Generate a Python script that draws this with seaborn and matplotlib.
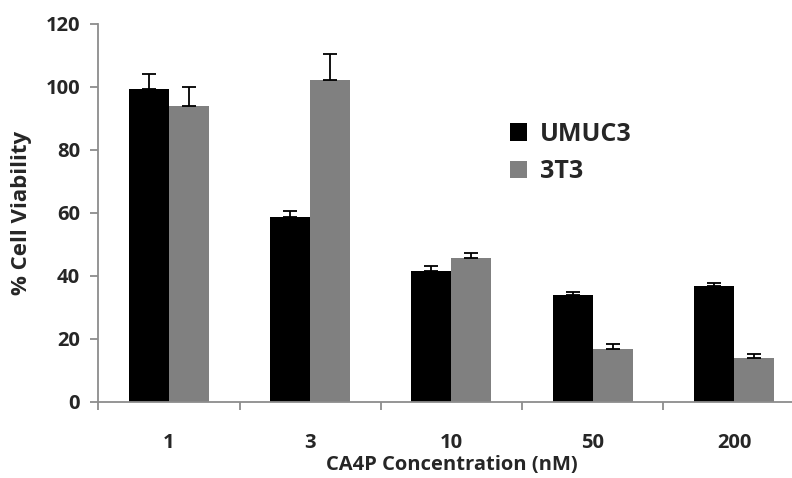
import matplotlib
matplotlib.use("Agg")
import matplotlib.pyplot as plt
import seaborn as sns
import numpy as np
import pandas as pd

# Values
concentrations = ["1", "3", "10", "50", "200"]
umuc3 = [99.3, 58.7, 41.6, 33.7, 36.7]
umuc3_err = [4.7, 2.0, 1.4, 1.2, 1.0]
t3t3 = [94.0, 102.2, 45.6, 16.6, 13.9]
t3t3_err = [6.0, 8.1, 1.6, 1.8, 1.3]
lines = ["UMUC3", "3T3"]
palette = {"UMUC3": "#000000", "3T3": "#808080"}

df = pd.DataFrame(
    {
        "conc": concentrations * 2,
        "viability": umuc3 + t3t3,
        "err": umuc3_err + t3t3_err,
        "line": [lines[0]] * 5 + [lines[1]] * 5,
    }
)

sns.set_style("white")
plt.rcParams["font.family"] = ["Open Sans", "DejaVu Sans"]

fig = plt.figure(figsize=(7.92, 4.78), dpi=100)
ax = fig.add_axes([0.124, 0.16, 0.892, 0.79])

sns.barplot(
    data=df,
    x="conc",
    y="viability",
    hue="line",
    order=concentrations,
    hue_order=lines,
    palette=palette,
    width=0.566,
    errorbar=None,
    saturation=1,
    linewidth=0,
    ax=ax,
)

# upper-only error bars, placed on the bars seaborn drew
for container, name in zip(ax.containers, lines):
    sub = df[df["line"] == name].set_index("conc").loc[concentrations]
    xs = [p.get_x() + p.get_width() / 2 for p in container.patches]
    ax.errorbar(
        xs,
        sub["viability"].values,
        yerr=[np.zeros(len(xs)), sub["err"].values],
        fmt="none",
        ecolor="black",
        elinewidth=1.3,
        capsize=5,
        capthick=1.3,
    )

ax.set_xlim(-0.5, 4.5)
ax.set_ylim(0, 120)
ax.set_yticks(range(0, 121, 20))
ax.set_xticks(np.arange(-0.5, 5, 1), minor=True)

for s in ["top", "right"]:
    ax.spines[s].set_visible(False)
for s in ["left", "bottom"]:
    ax.spines[s].set_color("#8c8c8c")
    ax.spines[s].set_linewidth(1.3)

ax.tick_params(axis="y", which="major", left=True, length=6, width=1.3,
               color="#8c8c8c", labelsize=14.5, pad=7)
ax.tick_params(axis="x", which="major", bottom=False, length=0, labelsize=14.5, pad=23)
ax.tick_params(axis="x", which="minor", bottom=True, length=6, width=1.3,
               color="#8c8c8c")
for lab in ax.get_xticklabels() + ax.get_yticklabels():
    lab.set_fontweight("bold")

ax.set_xlabel("CA4P Concentration (nM)", fontsize=14.5, fontweight="bold", labelpad=1)
ax.set_ylabel("% Cell Viability", fontsize=16, fontweight="bold", labelpad=10)

leg = ax.legend(
    loc="upper left",
    bbox_to_anchor=(0.551, 0.80),
    frameon=False,
    prop={"size": 18, "weight": "bold"},
    handlelength=0.7,
    handleheight=0.7,
    handletextpad=0.5,
    labelspacing=0.5,
    title=None,
)

fig.savefig("out.png", dpi=100)
